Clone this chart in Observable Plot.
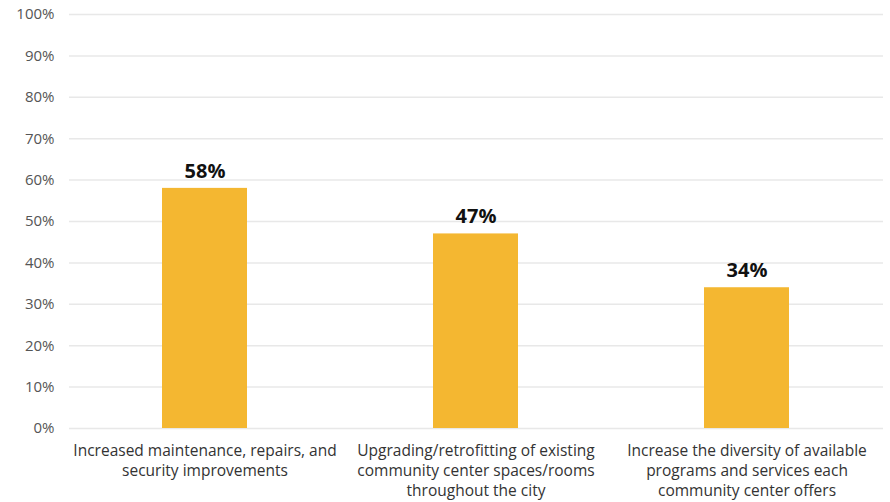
<!DOCTYPE html>
<html>
<head>
<meta charset="utf-8">
<script src="https://cdn.jsdelivr.net/npm/d3@7"></script>
<script src="https://cdn.jsdelivr.net/npm/@observablehq/plot@0.6"></script>
<style>
  html, body { margin: 0; padding: 0; background: #fff; }
  #chart svg { display: block; }
</style>
</head>
<body>
<div id="chart"></div>
<script>
const categories = [
  "Increased maintenance, repairs, and security improvements",
  "Upgrading/retrofitting of existing community center spaces/rooms throughout the city",
  "Increase the diversity of available programs and services each community center offers"
];
const tickLabels = [
  "Increased maintenance, repairs, and\nsecurity improvements",
  "Upgrading/retrofitting of existing\ncommunity center spaces/rooms\nthroughout the city",
  "Increase the diversity of available\nprograms and services each\ncommunity center offers"
];
const values = [0.58, 0.47, 0.34];
const yTicks = [0, 0.1, 0.2, 0.3, 0.4, 0.5, 0.6, 0.7, 0.8, 0.9, 1.0];

const data = categories.map((c, i) => ({category: c, value: values[i]}));
const labelOf = new Map(categories.map((c, i) => [c, tickLabels[i]]));
const fmt = d3.format(".0%");

const chart = Plot.plot({
  width: 890,
  height: 502,
  marginLeft: 69,
  marginRight: 7,
  marginTop: 14,
  marginBottom: 74,
  style: {fontFamily: "'Open Sans', sans-serif", fontSize: "14px", background: "#fff"},
  x: {domain: categories, paddingInner: 0.686, paddingOuter: 0.343, label: null},
  y: {domain: [0, 1], label: null},
  marks: [
    Plot.ruleY(yTicks, {stroke: "#e8e8e8", strokeWidth: 1.5}),
    Plot.axisY({ticks: yTicks, tickFormat: fmt, tickSize: 0, tickPadding: 15, fontSize: 15, fill: "#555", label: null}),
    Plot.axisX({tickSize: 0, tickPadding: 13, tickFormat: d => labelOf.get(d), fontSize: 15.5, fill: "#333", lineHeight: 1.3, label: null}),
    Plot.barY(data, {x: "category", y: "value", fill: "#F4B731"}),
    Plot.text(data, {x: "category", y: "value", text: d => fmt(d.value), dy: -17, fontSize: 20, fontWeight: "bold", fill: "#111"})
  ]
});
document.getElementById("chart").appendChild(chart);
</script>
</body>
</html>
